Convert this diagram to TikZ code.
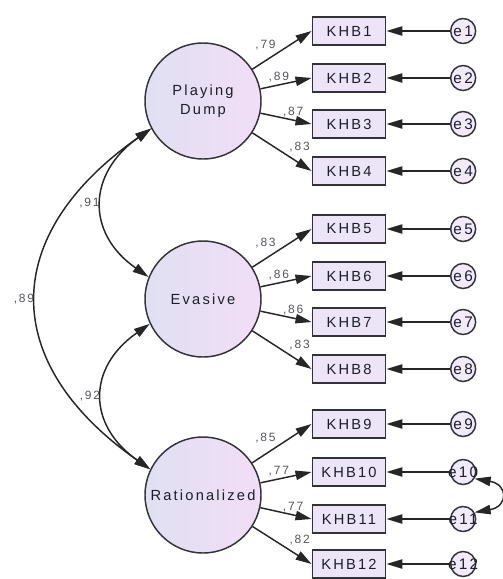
\documentclass[tikz,border=0pt]{standalone}
\usepackage{fontspec}
\setmainfont{Liberation Sans}
\newfontfamily\amosfont[LetterSpace=15]{Liberation Sans}
\usetikzlibrary{positioning,arrows.meta}

\definecolor{latleft}{RGB}{224,224,242}
\definecolor{latright}{RGB}{241,222,247}
\definecolor{boxfill}{RGB}{236,228,247}
\definecolor{errfill}{RGB}{241,235,249}
\definecolor{rim}{RGB}{50,50,56}
\definecolor{txt}{RGB}{30,30,42}
\definecolor{coef}{RGB}{85,85,92}

\newcommand{\errtext}[1]{\makebox[0pt]{#1}}

\begin{document}
\begin{tikzpicture}[
    x=0.75pt, y=-0.75pt,
    >={Triangle[length=12pt,width=7pt]},
    latent/.style={circle, draw=rim, line width=1.1pt, left color=latleft, right color=latright, minimum size=87pt, inner sep=0pt, align=center, font=\amosfont\fontsize{11}{14}\selectfont, text=txt},
    indicator/.style={rectangle, draw=rim, line width=1.2pt, fill=boxfill, minimum width=55pt, minimum height=21pt, inner sep=0pt, font=\amosfont\fontsize{11}{13}\selectfont, text=txt},
    errnode/.style={circle, draw=rim, line width=1.1pt, fill=errfill, minimum size=18.75pt, inner sep=0pt, font=\amosfont\fontsize{11.5}{13}\selectfont, text=txt},
    load/.style={->, line width=1.1pt, black!85},
    cov/.style={<->, line width=1.1pt, black!85},
    coeff/.style={font=\amosfont\fontsize{9}{10}\selectfont, text=coef, inner sep=1.5pt}
]
\useasboundingbox (0,0) rectangle (503,579);

% Latent factors
\node[latent] (pd) at (203,101) {Playing\\Dump};
\node[latent] (ev) at (203,299) {Evasive};
\node[latent] (ra) at (203,495) {Rationalized};

% Observed items
\node[indicator] (k1) at (349,31) {KHB1};
\node[indicator] (k2) at (349,78) {KHB2};
\node[indicator] (k3) at (349,124) {KHB3};
\node[indicator] (k4) at (349,171) {KHB4};
\node[indicator] (k5) at (349,229) {KHB5};
\node[indicator] (k6) at (349,276) {KHB6};
\node[indicator] (k7) at (349,322) {KHB7};
\node[indicator] (k8) at (349,369) {KHB8};
\node[indicator] (k9) at (349,424) {KHB9};
\node[indicator] (k10) at (349,472) {KHB10};
\node[indicator] (k11) at (349,519) {KHB11};
\node[indicator] (k12) at (349,564) {KHB12};

% Error terms
\node[errnode, right=47.6pt of k1] (e1) {\errtext{e1}};
\node[errnode, right=47.6pt of k2] (e2) {\errtext{e2}};
\node[errnode, right=47.6pt of k3] (e3) {\errtext{e3}};
\node[errnode, right=47.6pt of k4] (e4) {\errtext{e4}};
\node[errnode, right=47.6pt of k5] (e5) {\errtext{e5}};
\node[errnode, right=47.6pt of k6] (e6) {\errtext{e6}};
\node[errnode, right=47.6pt of k7] (e7) {\errtext{e7}};
\node[errnode, right=47.6pt of k8] (e8) {\errtext{e8}};
\node[errnode, right=47.6pt of k9] (e9) {\errtext{e9}};
\node[errnode, right=47.6pt of k10] (e10) {\errtext{e10}};
\node[errnode, right=47.6pt of k11] (e11) {\errtext{e11}};
\node[errnode, right=47.6pt of k12] (e12) {\errtext{e12}};

% Loadings
\draw[load] (pd) -- node[coeff, pos=.44, above left] {,79} (k1.west);
\draw[load] (pd) -- node[coeff, pos=.36, above] {,89} (k2.west);
\draw[load] (pd) -- node[coeff, pos=.64, above] {,87} (k3.west);
\draw[load] (pd) -- node[coeff, pos=.58, above right] {,83} (k4.west);
\draw[load] (ev) -- node[coeff, pos=.44, above left] {,83} (k5.west);
\draw[load] (ev) -- node[coeff, pos=.36, above] {,86} (k6.west);
\draw[load] (ev) -- node[coeff, pos=.64, above] {,86} (k7.west);
\draw[load] (ev) -- node[coeff, pos=.58, above right] {,83} (k8.west);
\draw[load] (ra) -- node[coeff, pos=.44, above left] {,85} (k9.west);
\draw[load] (ra) -- node[coeff, pos=.36, above] {,77} (k10.west);
\draw[load] (ra) -- node[coeff, pos=.64, above] {,77} (k11.west);
\draw[load] (ra) -- node[coeff, pos=.58, above right] {,82} (k12.west);

% Residual paths
\draw[load] (e1) -- (k1);
\draw[load] (e2) -- (k2);
\draw[load] (e3) -- (k3);
\draw[load] (e4) -- (k4);
\draw[load] (e5) -- (k5);
\draw[load] (e6) -- (k6);
\draw[load] (e7) -- (k7);
\draw[load] (e8) -- (k8);
\draw[load] (e9) -- (k9);
\draw[load] (e10) -- (k10);
\draw[load] (e11) -- (k11);
\draw[load] (e12) -- (k12);

% Factor covariances
\draw[cov] (pd.208) to[out=215, in=145, looseness=1.33] node[coeff, left] {,91} (ev.158);
\draw[cov] (ev.205) to[out=215, in=145, looseness=1.35] node[coeff, left] {,92} (ra.154);
\draw[cov] (pd.208) to[out=215, in=145, looseness=1.39] node[coeff, left] {,89} (ra.154);

% Error covariance
\draw[cov] (e10.-30) to[out=-10, in=10, looseness=2.6] (e11.30);

\end{tikzpicture}
\end{document}
